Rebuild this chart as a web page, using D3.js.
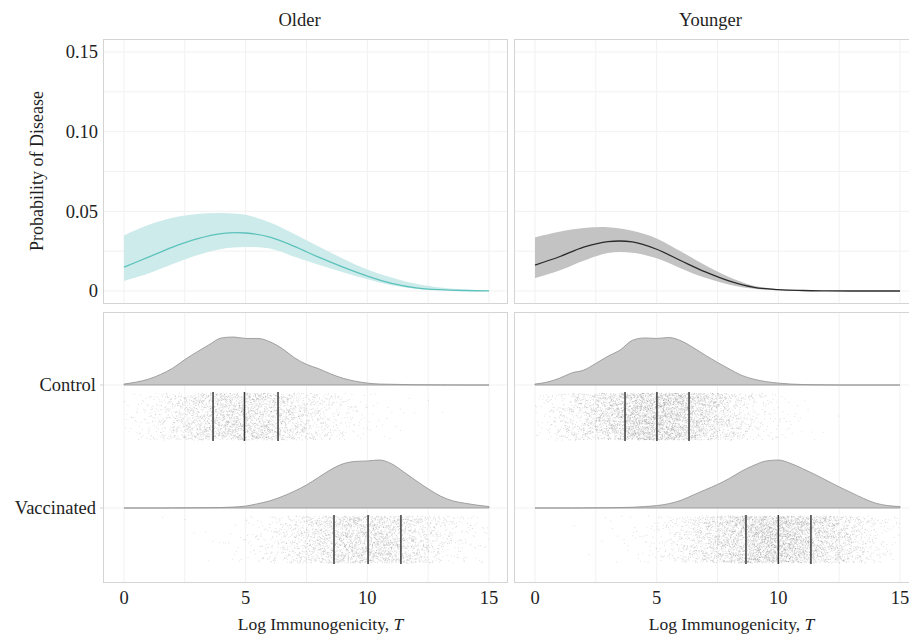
<!DOCTYPE html>
<html>
<head>
<meta charset="utf-8">
<script src="https://cdn.jsdelivr.net/npm/d3@7"></script>
<style>
body{margin:0;background:#fff;}
text{font-family:"Liberation Serif", serif;fill:#1e1e1e;}
</style>
</head>
<body>
<div id="chart"></div>
<script>
// facets
const facets = ['Older', 'Younger'];
const groups = ['Control', 'Vaccinated'];

// x grid for top curves (log immunogenicity)
const curveX = d3.range(0, 16, 1);
// probability of disease, older
const olderMean  = [0.0150,0.0212,0.0276,0.0327,0.0360,0.0364,0.0338,0.0280,0.0212,0.0150,0.0094,0.0048,0.0020,0.0008,0.0003,0.0001];
const olderUpper = [0.0350,0.0415,0.0460,0.0483,0.0490,0.0478,0.0430,0.0358,0.0280,0.0203,0.0135,0.0085,0.0045,0.0022,0.0010,0.0006];
const olderLower = [0.0063,0.0110,0.0170,0.0225,0.0264,0.0276,0.0266,0.0215,0.0165,0.0118,0.0073,0.0036,0.0013,0.0004,0.0001,0];
// probability of disease, younger
const youngerMean  = [0.0163,0.0215,0.0275,0.0310,0.0308,0.0262,0.0190,0.0120,0.0062,0.0023,0.0008,0.0003,0.0001,0,0,0];
const youngerUpper = [0.0337,0.0372,0.0395,0.0400,0.0378,0.0330,0.0248,0.0162,0.0087,0.0033,0.0012,0.0004,0.0001,0,0,0];
const youngerLower = [0.0080,0.0128,0.0190,0.0238,0.0240,0.0205,0.0142,0.0083,0.0040,0.0014,0.0004,0.0001,0,0,0,0];

// x grid for densities
const densX = d3.range(0, 15.01, 0.5);
// relative density heights (peak = 1)
const olderControl    = [0.02,0.06,0.12,0.22,0.35,0.53,0.69,0.84,0.98,1.0,0.97,0.97,0.90,0.76,0.57,0.43,0.34,0.23,0.14,0.08,0.04,0.02,0.015,0.01,0.005,0.003,0.002,0.001,0,0,0];
const olderVaccinated = [0,0,0,0,0.002,0.003,0.005,0.007,0.01,0.02,0.04,0.09,0.15,0.24,0.35,0.48,0.64,0.80,0.92,0.97,0.98,1.0,0.92,0.75,0.57,0.40,0.25,0.15,0.10,0.06,0.03];
const youngerControl    = [0.02,0.06,0.14,0.25,0.31,0.45,0.60,0.73,0.93,0.98,0.97,0.99,0.92,0.78,0.62,0.47,0.33,0.20,0.12,0.07,0.04,0.02,0.01,0.005,0.002,0,0,0,0,0,0];
const youngerVaccinated = [0,0,0,0,0.002,0.003,0.005,0.01,0.015,0.03,0.05,0.09,0.16,0.27,0.38,0.49,0.62,0.77,0.89,0.98,1.0,0.93,0.82,0.70,0.57,0.44,0.32,0.20,0.10,0.05,0.03];

// quartile marks (25%, 50%, 75%)
const olderControlQ    = [3.66, 4.95, 6.33];
const olderVaccinatedQ = [8.63, 10.03, 11.38];
const youngerControlQ    = [3.70, 5.01, 6.33];
const youngerVaccinatedQ = [8.67, 10.0, 11.34];

// number of raw observations drawn as dots
const dotCounts = [3200, 5200];

const xTicks = [0, 5, 10, 15];
const yTicks = [0, 0.05, 0.10, 0.15];
const yTickLabels = ['0', '0.05', '0.10', '0.15'];

const panels = [
    {name: facets[0], left: 103.5, right: 507.5, x0: 124, x1: 489,
     mean: olderMean, upper: olderUpper, lower: olderLower, ribbon: '#cdebea', line: '#5cc2bc',
     dens: [olderControl, olderVaccinated], q: [olderControlQ, olderVaccinatedQ], n: dotCounts[0]},
    {name: facets[1], left: 514.5, right: 920, x0: 535, x1: 900,
     mean: youngerMean, upper: youngerUpper, lower: youngerLower, ribbon: '#c3c3c3', line: '#2a2a2a',
     dens: [youngerControl, youngerVaccinated], q: [youngerControlQ, youngerVaccinatedQ], n: dotCounts[1]}
];

const svg = d3.select('#chart').append('svg')
    .attr('width', 909)
    .attr('height', 636);

const topY = [39.5, 303.5];
const botY = [312.5, 582.5];
const y = d3.scaleLinear().domain([0, 0.15]).range([291, 52]);
const baselines = [385, 508];
const densH = 48;
const dotBand = [[392, 441], [515, 564]];

const gridColor = '#f1f1f1';
const borderColor = '#d4d4d4';
const smooth = d3.curveCatmullRom.alpha(0.5);

function drawPanelFrame(p, y0, y1, hLines){
    let x = d3.scaleLinear().domain([0, 15]).range([p.x0, p.x1]);
    let g = svg.append('g');
    // minor + major vertical grid
    g.selectAll('.vg').data([0, 2.5, 5, 7.5, 10, 12.5, 15]).enter().append('line')
        .attr('x1', d => x(d)).attr('x2', d => x(d))
        .attr('y1', y0).attr('y2', y1)
        .attr('stroke', gridColor).attr('stroke-width', 1);
    g.selectAll('.hg').data(hLines).enter().append('line')
        .attr('x1', p.left).attr('x2', p.right)
        .attr('y1', d => d).attr('y2', d => d)
        .attr('stroke', gridColor).attr('stroke-width', 1);
    return x;
}

function drawBorder(p, y0, y1){
    svg.append('rect')
        .attr('x', p.left).attr('y', y0)
        .attr('width', p.right - p.left).attr('height', y1 - y0)
        .attr('fill', 'none').attr('stroke', borderColor).attr('stroke-width', 1);
}

// hash-style jitter so the dots don't line up
function hash(i, s){
    let v = Math.sin(i * 12.9898 + s * 78.233) * 43758.5453;
    return v - Math.floor(v);
}

// quantile sampling from a density curve, jittered vertically
function sampleDots(dens, n, seed){
    let cdf = [0];
    for(let i = 1; i < densX.length; i++){
        cdf.push(cdf[i-1] + (dens[i] + dens[i-1]) / 2);
    }
    let total = cdf[cdf.length - 1];
    let pts = [];
    for(let i = 0; i < n; i++){
        let u = (i + hash(i, seed + 3)) / n * total;
        let k = d3.bisectLeft(cdf, u);
        k = Math.max(1, Math.min(k, cdf.length - 1));
        let f = (u - cdf[k-1]) / ((cdf[k] - cdf[k-1]) || 1);
        let xv = densX[k-1] + f * (densX[k] - densX[k-1]);
        pts.push({x: Math.max(0, Math.min(15, xv)), j: hash(i, seed)});
    }
    return pts;
}

panels.forEach(function(p, pi){
    // ---- top panel
    let x = drawPanelFrame(p, topY[0], topY[1], d3.range(0, 0.151, 0.025).map(d => y(d)));
    let rows = curveX.map((d, i) => ({x: d, m: p.mean[i], lo: p.lower[i], hi: p.upper[i]}));
    svg.append('path').datum(rows)
        .attr('fill', p.ribbon)
        .attr('d', d3.area().curve(smooth)
            .x(d => x(d.x)).y0(d => y(d.lo)).y1(d => y(d.hi)));
    svg.append('path').datum(rows)
        .attr('fill', 'none').attr('stroke', p.line).attr('stroke-width', 1.3)
        .attr('d', d3.line().curve(smooth).x(d => x(d.x)).y(d => y(d.m)));
    drawBorder(p, topY[0], topY[1]);

    // facet title
    svg.append('text')
        .attr('x', (p.x0 + p.x1) / 2 - 7).attr('y', 26)
        .attr('text-anchor', 'middle')
        .style('font-size', '18.5px')
        .text(p.name);

    // ---- bottom panel
    drawPanelFrame(p, botY[0], botY[1], baselines);
    groups.forEach(function(grp, gi){
        let base = baselines[gi];
        let dd = densX.map((d, i) => ({x: d, h: p.dens[gi][i]}));
        svg.append('path').datum(dd)
            .attr('fill', '#c8c8c8').attr('stroke', '#8f8f8f').attr('stroke-width', 0.8)
            .attr('d', d3.area().curve(d3.curveMonotoneX)
                .x(d => x(d.x)).y0(base).y1(d => base - d.h * densH));

        let band = dotBand[gi];
        let jy = d3.scaleLinear().domain([0, 1]).range([band[0] + 1, band[1] - 1]);
        svg.append('g').selectAll('circle').data(sampleDots(p.dens[gi], p.n, pi * 2 + gi + 1)).enter().append('circle')
            .attr('cx', d => x(d.x)).attr('cy', d => jy(d.j))
            .attr('r', 0.5)
            .attr('fill', '#666').attr('fill-opacity', 0.24);

        svg.append('g').selectAll('line').data(p.q[gi]).enter().append('line')
            .attr('x1', d => x(d)).attr('x2', d => x(d))
            .attr('y1', band[0]).attr('y2', band[1])
            .attr('stroke', '#3c3c3c').attr('stroke-width', 1.5);
    });
    drawBorder(p, botY[0], botY[1]);

    // x axis labels
    svg.append('g').selectAll('text').data(xTicks).enter().append('text')
        .attr('x', d => x(d)).attr('y', 604)
        .attr('text-anchor', 'middle')
        .style('font-size', '18.5px')
        .text(d => d);
    let title = svg.append('text')
        .attr('x', (p.x0 + p.x1) / 2 + 14).attr('y', 630)
        .attr('text-anchor', 'middle')
        .style('font-size', '17.5px');
    title.append('tspan').text('Log Immunogenicity, ');
    title.append('tspan').style('font-style', 'italic').text('T');
});

// y axis (top, left only)
svg.append('g').selectAll('text').data(yTicks).enter().append('text')
    .attr('x', 98).attr('y', d => y(d))
    .attr('dy', '0.35em')
    .attr('text-anchor', 'end')
    .style('font-size', '18.5px')
    .text((d, i) => yTickLabels[i]);

svg.append('text')
    .attr('transform', 'translate(43,171) rotate(-90)')
    .attr('text-anchor', 'middle')
    .style('font-size', '18px')
    .text('Probability of Disease');

// group labels (bottom, left only)
svg.append('g').selectAll('text').data(groups).enter().append('text')
    .attr('x', 96).attr('y', (d, i) => baselines[i])
    .attr('dy', '0.35em')
    .attr('text-anchor', 'end')
    .style('font-size', '18.5px')
    .text(d => d);
svg.append('g').selectAll('line').data(baselines).enter().append('line')
    .attr('x1', 100).attr('x2', 103.5)
    .attr('y1', d => d).attr('y2', d => d)
    .attr('stroke', '#d4d4d4');
</script>
</body>
</html>
